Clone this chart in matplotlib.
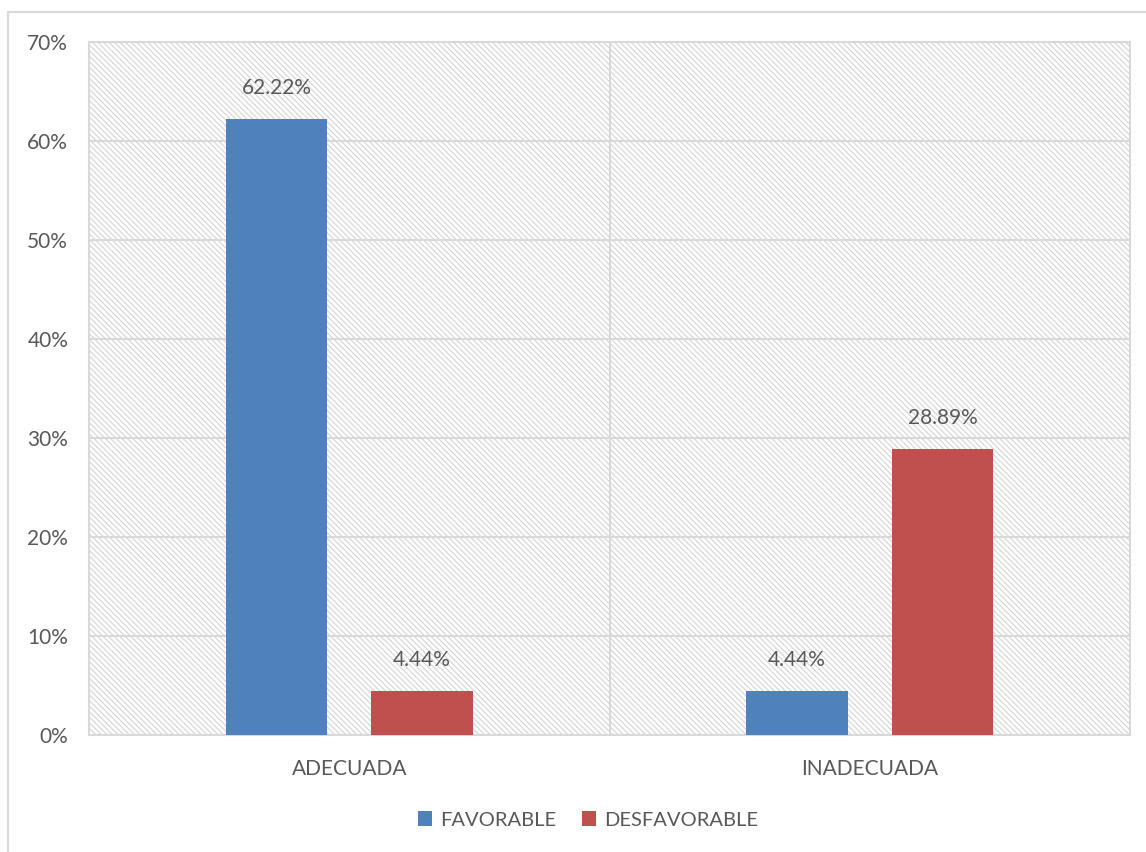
import matplotlib.pyplot as plt
from matplotlib.patches import Rectangle
import numpy as np

plt.rcParams['font.family'] = ['Lato', 'DejaVu Sans']
plt.rcParams['hatch.linewidth'] = 0.8
plt.rcParams['hatch.color'] = '#d4d4d4'

categories = ['ADECUADA', 'INADECUADA']
favorable = [62.22, 4.44]
desfavorable = [4.44, 28.89]
series_names = ['FAVORABLE', 'DESFAVORABLE']
colors = ['#4F81BD', '#C0504D']
text_color = '#595959'
grid_color = '#d9d9d9'

fig = plt.figure(figsize=(11.46, 8.52), dpi=100)
# chart area border (cut off at right and bottom)
fig.patches.append(Rectangle((8 / 1146, -0.1), 1.2, (1 - 12 / 852) + 0.1,
                             transform=fig.transFigure, fill=False,
                             edgecolor=grid_color, lw=1.5))

ax = fig.add_axes([89 / 1146, 1 - 735 / 852, (1130 - 89) / 1146, (735 - 42) / 852])

# hatched background
ax.add_patch(Rectangle((0, 0), 1, 1, transform=ax.transAxes, facecolor='white',
                       hatch='\\' * 6, edgecolor='#d4d4d4', lw=0, zorder=0))

x = np.arange(len(categories))
w = 0.195
off = 0.14
b1 = ax.bar(x - off, favorable, w, color=colors[0], label=series_names[0], zorder=3)
b2 = ax.bar(x + off, desfavorable, w, color=colors[1], label=series_names[1], zorder=3)

for bars, vals in ((b1, favorable), (b2, desfavorable)):
    for rect, v in zip(bars, vals):
        ax.annotate(f'{v:.2f}%', (rect.get_x() + rect.get_width() / 2, v),
                    xytext=(0, 15), textcoords='offset points', ha='center',
                    va='bottom', fontsize=15, color=text_color)

ax.set_xlim(-0.5, 1.5)
ax.set_ylim(0, 70)
ax.set_yticks(range(0, 71, 10))
ax.set_yticklabels([f'{t}%' for t in range(0, 71, 10)])
ax.set_xticks(x)
ax.set_xticklabels(categories)
ax.tick_params(axis='both', length=0, labelsize=15, colors=text_color)
ax.tick_params(axis='y', pad=15)
ax.tick_params(axis='x', pad=17)

ax.yaxis.grid(True, color=grid_color, lw=1.5, zorder=1)
ax.axvline(0.5, color=grid_color, lw=1.5, zorder=1)
ax.set_axisbelow(True)
for s in ax.spines.values():
    s.set_color(grid_color)
    s.set_linewidth(1.5)

ax.legend(loc='center', bbox_to_anchor=(588 / 1146, 1 - 820 / 852),
          bbox_transform=fig.transFigure, ncol=2, frameon=False, fontsize=14.5,
          labelcolor=text_color, handlelength=0.7, handleheight=0.7,
          columnspacing=1.3, handletextpad=0.4)

fig.savefig('out.png', dpi=100)
